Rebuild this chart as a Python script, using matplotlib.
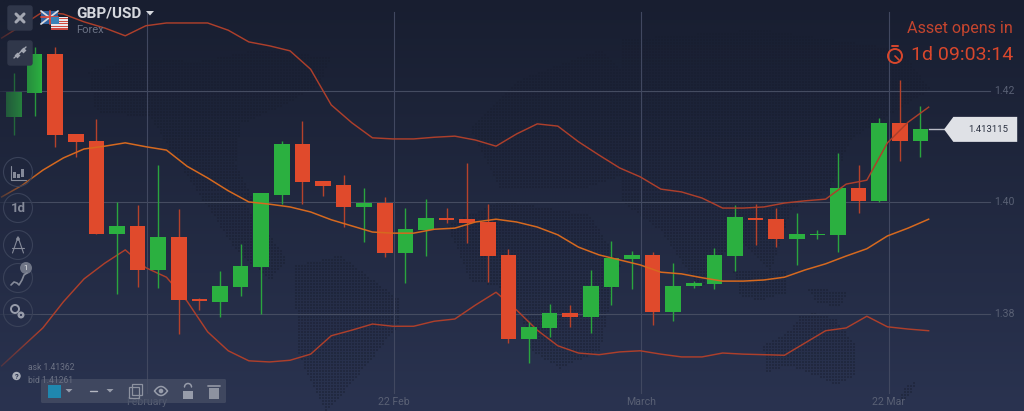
import numpy as np
import matplotlib
matplotlib.use("Agg")
import matplotlib.pyplot as plt
from matplotlib.patches import Circle, FancyBboxPatch, Polygon, Rectangle
from matplotlib.path import Path

plt.rcParams["font.family"] = ["Roboto", "DejaVu Sans"]

# daily candles, oldest first
opens = [1.4153, 1.4196, 1.4266, 1.4122, 1.4111, 1.3943, 1.3958, 1.3879, 1.3938, 1.3826, 1.3822,
         1.3848, 1.3884, 1.4013, 1.4105, 1.4039, 1.4031, 1.3992, 1.3999, 1.3909, 1.3951, 1.3972,
         1.3970, 1.3965, 1.3906, 1.3755, 1.3775, 1.3802, 1.3795, 1.3848, 1.3899, 1.3906, 1.3804,
         1.3850, 1.3854, 1.3904, 1.3973, 1.3970, 1.3935, 1.3942, 1.3942, 1.4026, 1.4003, 1.4143,
         1.4110]
closes = [1.4198, 1.4266, 1.4121, 1.4109, 1.3944, 1.3958, 1.3879, 1.3938, 1.3825, 1.3823, 1.3850,
          1.3886, 1.4017, 1.4105, 1.4037, 1.4030, 1.3992, 1.3999, 1.3909, 1.3952, 1.3972, 1.3969,
          1.3964, 1.3904, 1.3755, 1.3777, 1.3802, 1.3795, 1.3850, 1.3900, 1.3906, 1.3804, 1.3850,
          1.3856, 1.3906, 1.3974, 1.3969, 1.3935, 1.3944, 1.3944, 1.4026, 1.4003, 1.4143, 1.4110,
          1.4132]
highs = [1.4232, 1.4279, 1.4279, 1.4122, 1.4150, 1.4001, 1.3996, 1.4067, 1.3988, 1.3829, 1.3877,
         1.3926, 1.4017, 1.4110, 1.4146, 1.4039, 1.4049, 1.4026, 1.4010, 1.3990, 1.4006, 1.3990,
         1.4071, 1.3997, 1.3917, 1.3786, 1.3818, 1.3816, 1.3879, 1.3931, 1.3913, 1.3911, 1.3891,
         1.3859, 1.3918, 1.3996, 1.3997, 1.3990, 1.3981, 1.3951, 1.4089, 1.4067, 1.4152, 1.4220,
         1.4173]
lows = [1.4121, 1.4155, 1.4100, 1.4082, 1.3943, 1.3836, 1.3848, 1.3847, 1.3764, 1.3807, 1.3795,
        1.3832, 1.3800, 1.3997, 1.3997, 1.4012, 1.3956, 1.3929, 1.3902, 1.3856, 1.3904, 1.3963,
        1.3927, 1.3857, 1.3748, 1.3712, 1.3759, 1.3777, 1.3766, 1.3816, 1.3845, 1.3780, 1.3787,
        1.3847, 1.3845, 1.3877, 1.3924, 1.3920, 1.3888, 1.3935, 1.3911, 1.3981, 1.4001, 1.4074,
        1.4082]

# bollinger bands, one value more than candles (the first one starts off to the left)
band_upper = [1.4295, 1.4318, 1.4342, 1.4338, 1.4324, 1.4313, 1.4299, 1.4317, 1.4322, 1.4322, 1.4322,
              1.4309, 1.4288, 1.4281, 1.4272, 1.4239, 1.4175, 1.4143, 1.4116, 1.4114, 1.4114, 1.4117,
              1.4119, 1.4112, 1.4101, 1.4123, 1.4141, 1.4137, 1.4109, 1.4085, 1.4062, 1.4046, 1.4024,
              1.4019, 1.4008, 1.3990, 1.3990, 1.3992, 1.3999, 1.4003, 1.4006, 1.4033, 1.4040, 1.4107,
              1.4144, 1.4171]
band_middle = [1.4010, 1.4031, 1.4058, 1.4080, 1.4096, 1.4101, 1.4107, 1.4100, 1.4094, 1.4065, 1.4044,
               1.4021, 1.4001, 1.3997, 1.3992, 1.3983, 1.3969, 1.3958, 1.3947, 1.3945, 1.3945, 1.3952,
               1.3954, 1.3965, 1.3970, 1.3965, 1.3956, 1.3942, 1.3920, 1.3906, 1.3897, 1.3888, 1.3875,
               1.3872, 1.3865, 1.3859, 1.3859, 1.3861, 1.3866, 1.3879, 1.3890, 1.3904, 1.3917, 1.3940,
               1.3954, 1.3970]
band_lower = [1.3707, 1.3741, 1.3775, 1.3822, 1.3863, 1.3891, 1.3915, 1.3883, 1.3866, 1.3823, 1.3768,
              1.3734, 1.3716, 1.3714, 1.3717, 1.3728, 1.3761, 1.3771, 1.3782, 1.3778, 1.3778, 1.3787,
              1.3791, 1.3816, 1.3839, 1.3807, 1.3771, 1.3743, 1.3730, 1.3727, 1.3732, 1.3734, 1.3728,
              1.3723, 1.3723, 1.3730, 1.3728, 1.3727, 1.3726, 1.3748, 1.3770, 1.3775, 1.3796, 1.3777,
              1.3773, 1.3770]

price_ticks = [1.42, 1.40, 1.38]
price_labels = ["1.42", "1.40", "1.38"]
date_ticks = [6.46, 18.46, 30.46, 42.46]
date_labels = ["February", "22 Feb", "March", "22 Mar"]
last_price = 1.413115

GREEN, RED = "#2bb040", "#e04a2c"
GREEN_WICK, RED_WICK = "#2aa53e", "#b5422b"
TOP_BG, BOTTOM_BG = np.array([24, 30, 48]) / 255, np.array([42, 51, 80]) / 255
W, H = 1024, 411


def ui_line(ax, xs, ys, color="#8a90a0", lw=1.0, **kw):
    ax.plot(xs, ys, color=color, lw=lw, solid_capstyle="round", **kw)


def draw_map(ax):
    # rough dotted world map behind the chart
    shapes = [
        [(88, 72), (130, 60), (200, 62), (260, 50), (330, 58), (320, 85), (285, 105), (240, 125),
         (235, 165), (255, 205), (205, 205), (170, 150), (150, 118), (95, 112)],
        [(207, 205), (245, 205), (287, 258), (270, 280), (235, 250)],
        [(295, 265), (340, 255), (400, 300), (400, 322), (370, 360), (345, 390), (325, 410), (296, 350)],
        [(447, 225), (500, 200), (590, 215), (620, 265), (610, 300), (600, 350), (560, 368), (530, 350),
         (515, 290), (470, 280)],
        [(470, 130), (520, 80), (600, 50), (640, 90), (640, 170), (580, 190), (500, 190)],
        [(620, 40), (760, 30), (900, 50), (930, 90), (850, 140), (830, 190), (790, 210), (770, 270),
         (735, 235), (700, 290), (660, 230), (620, 200)],
        [(733, 270), (787, 270), (787, 292), (760, 300), (740, 296)],
        [(807, 287), (847, 292), (840, 307), (815, 302)],
        [(763, 345), (790, 330), (800, 315), (815, 313), (835, 318), (855, 345), (855, 375), (835, 385),
         (815, 375), (790, 365), (765, 372)],
        [(905, 385), (918, 380), (905, 400), (895, 405)],
    ]
    gx, gy = np.meshgrid(np.arange(0, W, 3) + 1.5, np.arange(0, H, 3) + 1.5)
    pts = np.column_stack([gx.ravel(), gy.ravel()])
    hit = np.zeros(len(pts), dtype=bool)
    for s in shapes:
        hit |= Path(s + [s[0]]).contains_points(pts)
    ax.scatter(pts[hit, 0], pts[hit, 1], s=2.2, marker="s", color="#181d2e", alpha=0.42, linewidths=0)


def draw_flags(ax):
    ax.add_patch(Rectangle((41, 11), 17, 13, fc="#2f5f9c", lw=0, zorder=3))
    for a, b in [((41, 11), (58, 24)), ((41, 24), (58, 11))]:
        ui_line(ax, [a[0], b[0]], [a[1], b[1]], color="#d9d9de", lw=1.3, zorder=3)
    ui_line(ax, [41, 58], [17.5, 17.5], color="#d8493c", lw=1.3, zorder=3)
    ui_line(ax, [49.5, 49.5], [11, 24], color="#d8493c", lw=1.3, zorder=3)
    ax.add_patch(Rectangle((51, 17), 17, 13, fc="#e8e8ec", lw=0, zorder=4))
    for y in np.arange(18, 30, 2.6):
        ax.add_patch(Rectangle((51, y), 17, 1.2, fc="#cf4a40", lw=0, zorder=4))
    ax.add_patch(Rectangle((51, 17), 8, 7, fc="#3b83b8", lw=0, zorder=4))


def draw_left_buttons(ax):
    for y in (5, 40):
        ax.add_patch(FancyBboxPatch((8, y + 1), 24, 24, boxstyle="round,pad=0,rounding_size=2",
                                    fc="#30374a", ec="#30374a", lw=1))
    ui_line(ax, [16, 24], [14, 22], color="#a3a7b2", lw=2.2)
    ui_line(ax, [24, 16], [14, 22], color="#a3a7b2", lw=2.2)
    ui_line(ax, [14, 26], [58, 47], color="#a3a7b2", lw=1.0)
    ax.scatter([17, 23], [55, 50], s=9, marker="D", color="#a3a7b2", linewidths=0)

    for y in (172, 208, 245, 278, 312):
        ax.add_patch(Circle((18, y), 14.5, fc="none", ec="#3a4259", lw=0.8))
    ax.text(18, 208, "1d", color="#858a99", fontsize=9.5, fontweight="bold", ha="center", va="center")

    # candles icon
    ui_line(ax, [11, 11, 26], [166, 180, 180], color="#858a99", lw=0.8)
    for x, top, bot in [(14, 172, 178), (18, 174, 178), (22, 169, 177)]:
        ax.add_patch(Rectangle((x - 1.5, top), 3, bot - top, fc="#858a99", ec="none"))
    # compass icon
    ui_line(ax, [18, 12.5], [237, 253], color="#858a99", lw=0.8)
    ui_line(ax, [18, 23.5], [237, 253], color="#858a99", lw=0.8)
    ui_line(ax, [12, 24], [248, 248], color="#858a99", lw=0.8)
    ax.add_patch(Circle((18, 239), 1.8, fc="#858a99", ec="none"))
    # indicator icon with badge
    ui_line(ax, [11, 14, 17, 19, 22, 24, 27], [285, 282, 283, 285, 280, 275, 273], color="#858a99", lw=1.2)
    ax.add_patch(Circle((26, 268), 6, fc="#6f7586", ec="none"))
    ax.text(26, 268, "1", color="#e6e7ea", fontsize=5.5, ha="center", va="center")
    # settings icon
    ax.add_patch(Circle((15, 309), 4, fc="none", ec="#979caa", lw=1.4))
    ax.add_patch(Circle((21, 315), 3.5, fc="#979caa", ec="none"))
    ax.add_patch(Circle((21, 315), 1.1, fc="#2a3350", ec="none"))


def draw_toolbar(ax):
    ax.add_patch(FancyBboxPatch((41, 379), 185, 24, boxstyle="round,pad=0,rounding_size=1.5",
                                fc="#4a5268", ec="none", alpha=0.68, zorder=6))
    ax.add_patch(Rectangle((48, 385), 13, 13, fc="#1f87ae", lw=0, zorder=7))
    for x in (69, 110):
        ax.add_patch(Polygon([(x - 3.5, 389), (x + 3.5, 389), (x, 392.5)], fc="#979caa", lw=0, zorder=7))
    ui_line(ax, [90, 97], [391, 391], color="#b4b7c1", lw=1.0, zorder=7)
    ax.add_patch(Rectangle((129, 387), 10, 11, fc="none", ec="#8d92a0", lw=0.9, zorder=7))
    ax.add_patch(Rectangle((132, 384), 10, 11, fc="none", ec="#8d92a0", lw=0.9, zorder=7))
    t = np.linspace(-1, 1, 30)
    ui_line(ax, 161 + 6.5 * t, 391 - 4.5 * (1 - t ** 2), color="#979caa", lw=1.1, zorder=7)
    ui_line(ax, 161 + 6.5 * t, 391 + 4.5 * (1 - t ** 2), color="#979caa", lw=1.1, zorder=7)
    ax.add_patch(Circle((161, 391), 2.3, fc="#979caa", lw=0, zorder=7))
    ax.add_patch(Rectangle((183, 391), 10, 8, fc="#979caa", lw=0, zorder=7))
    a = np.linspace(np.pi, 2 * np.pi, 20)
    ui_line(ax, 188 + 3.5 * np.cos(a), 387 + 3.5 * np.sin(a), color="#979caa", lw=1.1, zorder=7)
    ax.add_patch(Rectangle((209, 388), 10, 11, fc="#8d92a0", lw=0, zorder=7))
    ui_line(ax, [208, 220], [385.5, 385.5], color="#8d92a0", lw=1.3, zorder=7)


def draw_overlay(ax):
    # left edge of the chart fades into the background
    n = 64
    ramp = np.linspace(TOP_BG, BOTTOM_BG, n)[:, None, :]
    fade = np.linspace(0.72, 0.0, n)[None, :, None]
    img = np.dstack([np.repeat(ramp, n, axis=1), fade * np.ones((n, n, 1))])
    ax.imshow(img, extent=(0, 42, H, 0), aspect="auto", interpolation="bilinear", zorder=1)
    ax.set_xlim(0, W)
    ax.set_ylim(H, 0)

    ax.text(76, 13.5, "GBP/USD", color="#d6d8de", fontsize=11, fontweight="bold", va="center")
    ax.add_patch(Polygon([(146, 11), (154, 11), (150, 15.5)], fc="#d6d8de", lw=0))
    ax.text(76, 30, "Forex", color="#6b7284", fontsize=8, va="center")
    draw_flags(ax)
    draw_left_buttons(ax)

    ax.text(28, 367, "ask 1.41362", color="#6b7183", fontsize=6.2, va="center")
    ax.text(28, 380, "bid 1.41261", color="#6b7183", fontsize=6.2, va="center", zorder=8)
    ax.add_patch(Circle((16.5, 376), 4.2, fc="#a9adb8", lw=0))
    ax.text(16.5, 376, "?", color="#2a3350", fontsize=5.5, fontweight="bold", ha="center", va="center")
    draw_toolbar(ax)

    ax.text(1013, 28, "Asset opens in", color="#c4452e", fontsize=11.6, ha="right", va="center")
    ax.text(1013, 55.5, "1d 09:03:14", color="#d9472c", fontsize=14, ha="right", va="center")
    ax.add_patch(Circle((895, 56), 7, fc="none", ec="#d9472c", lw=1.4))
    ui_line(ax, [895, 899], [56, 60], color="#d9472c", lw=1.2)
    ui_line(ax, [892, 898], [46, 46], color="#d9472c", lw=1.4)


fig = plt.figure(figsize=(W / 100, H / 100), dpi=100)

# background gradient + map
bg = fig.add_axes([0, 0, 1, 1], zorder=0)
bg.imshow(np.linspace(TOP_BG, BOTTOM_BG, 256)[:, None, :], extent=(0, W, H, 0), aspect="auto")
draw_map(bg)
bg.set_xlim(0, W)
bg.set_ylim(H, 0)
bg.axis("off")

# the chart itself
ax = fig.add_axes([0, 0, 1, 1], zorder=1)
ax.patch.set_alpha(0)
ax.set_xlim(-0.68, 49.03)
ax.set_ylim(1.3626, 1.43632)
ax.axis("off")

for p, label in zip(price_ticks, price_labels):
    ax.axhline(p, xmin=0, xmax=990 / W, color="#454c61", lw=0.8, zorder=1)
    ax.annotate(label, (1004 / W, p), xycoords=ax.get_yaxis_transform(), color="#596074", fontsize=7.6,
                ha="center", va="center")
for d, label in zip(date_ticks, date_labels):
    ax.axvline(d, ymin=18 / H, ymax=1 - 12 / H, color="#414860", lw=0.8, zorder=1)
    ax.annotate(label, (d, 9 / H), xycoords=ax.get_xaxis_transform(), color="#596074", fontsize=7.6,
                ha="center", va="center", zorder=5)

idx = np.arange(len(opens))
o, c, h, l = map(np.array, (opens, closes, highs, lows))
up = c >= o
band_x = np.arange(len(band_upper)) - 0.6

ax.plot(band_x, band_lower, color="#ad3f2b", lw=1.05, zorder=2)
ax.vlines(idx[up], l[up], h[up], color=GREEN_WICK, lw=1.0, zorder=3)
ax.vlines(idx[~up], l[~up], h[~up], color=RED_WICK, lw=1.0, zorder=3)
ax.bar(idx, np.abs(c - o), bottom=np.minimum(o, c), width=0.75, color=np.where(up, GREEN, RED),
       edgecolor="none", zorder=4)
ax.plot(band_x, band_upper, color="#ad3f2b", lw=1.05, zorder=5)
ax.plot(band_x, band_middle, color="#d6691f", lw=1.1, zorder=5)

# current price tag
tag_y = last_price
ax.plot([idx[-1] + 0.4, idx[-1] + 1.15], [tag_y, tag_y], color="#b9bcc6", lw=1.0, zorder=3)
step = 12.5 * 0.00017937
ax.add_patch(Polygon([(idx[-1] + 1.15, tag_y), (idx[-1] + 1.6, tag_y + step), (idx[-1] + 4.7, tag_y + step),
                      (idx[-1] + 4.7, tag_y - step), (idx[-1] + 1.6, tag_y - step)], fc="#dfe1e6", lw=0, zorder=5))
ax.text(idx[-1] + 3.3, tag_y, f"{last_price:.6f}", color="#2a3040", fontsize=6.8, ha="center", va="center",
        zorder=6)

# interface drawn on top
ui = fig.add_axes([0, 0, 1, 1], zorder=2)
ui.patch.set_alpha(0)
draw_overlay(ui)
ui.axis("off")

fig.savefig("out.png", dpi=100)
